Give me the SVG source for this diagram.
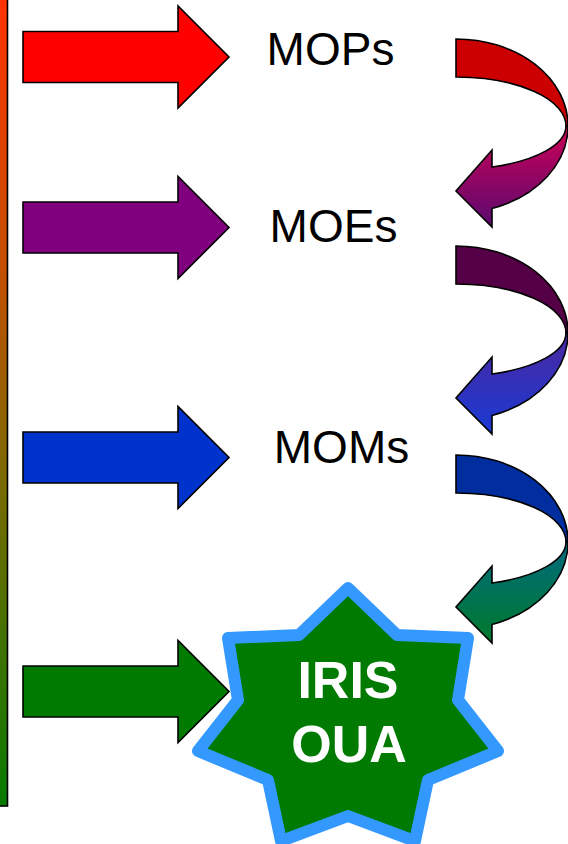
<svg xmlns="http://www.w3.org/2000/svg" xmlns:xlink="http://www.w3.org/1999/xlink" width="568" height="844" viewBox="0 0 568 844">
<style>
.ol{stroke:#000;stroke-width:1.6;stroke-linejoin:miter}
.lbl{font-family:"Liberation Sans",Arial,sans-serif;font-size:46px;fill:#000;text-anchor:middle}
.st{font-family:"Liberation Sans",Arial,sans-serif;font-size:52px;font-weight:bold;fill:#fff;text-anchor:middle}
</style>
<defs>
<linearGradient id="barG" x1="0" y1="0" x2="0" y2="1">
<stop offset="0" stop-color="#ff3300"/>
<stop offset="0.35" stop-color="#c05000"/>
<stop offset="0.6" stop-color="#7a6a00"/>
<stop offset="1" stop-color="#077a00"/>
</linearGradient>
<linearGradient id="c1" x1="0" y1="0" x2="0" y2="1">
<stop offset="0" stop-color="#cc0055"/>
<stop offset="1" stop-color="#5a0a70"/>
</linearGradient>
<linearGradient id="c2" x1="0" y1="0" x2="0" y2="1">
<stop offset="0" stop-color="#4a28a0"/>
<stop offset="1" stop-color="#1a3ad4"/>
</linearGradient>
<linearGradient id="c3" x1="0" y1="0" x2="0" y2="1">
<stop offset="0" stop-color="#006a80"/>
<stop offset="1" stop-color="#007a2a"/>
</linearGradient>
<path id="arr" class="ol" d="M23,-25.5 H178 V-51 L229,0 L178,51 V25.5 H23 Z"/>
<path id="cTop" class="ol" d="M456,0 A112,87 0 0 1 568,87 L566,87 A110,49 0 0 0 456,38 Z"/>
<path id="cLow" class="ol" d="M568,87 A112,87 0 0 1 492,169.4 L492,188 L456,152 L492,111 L492,128 A110,43.5 0 0 0 566,87 Z"/>
</defs>

<g id="bar">
<rect x="-2" y="-2" width="9.5" height="808" fill="url(#barG)" stroke="#000" stroke-width="1.6"/>
</g>

<g id="arrow-red"><use xlink:href="#arr" href="#arr" y="57" fill="#ff0000"/></g>
<g id="arrow-purple"><use xlink:href="#arr" href="#arr" y="227.5" fill="#800080"/></g>
<g id="arrow-blue"><use xlink:href="#arr" href="#arr" y="457.5" fill="#0033cc"/></g>
<g id="arrow-green"><use xlink:href="#arr" href="#arr" y="691.5" fill="#007a00"/></g>

<g id="label-mops"><text class="lbl" x="330.5" y="65">MOPs</text></g>
<g id="label-moes"><text class="lbl" x="333.5" y="242">MOEs</text></g>
<g id="label-moms"><text class="lbl" x="341.5" y="463">MOMs</text></g>

<g id="connectors">
<g transform="translate(0,39)">
<use xlink:href="#cTop" href="#cTop" fill="#cc0000"/>
<path class="ol" fill="url(#c1)" d="M568,87 A112,87 0 0 1 492,169.4 L492,188 L456,152 L492,111 L492,128 A110,43.5 0 0 0 566,87 Z"/>
</g>
<g transform="translate(0,246)">
<use xlink:href="#cTop" href="#cTop" fill="#550046"/>
<path class="ol" fill="url(#c2)" d="M568,87 A112,87 0 0 1 492,169.4 L492,188 L456,152 L492,111 L492,128 A110,43.5 0 0 0 566,87 Z"/>
</g>
<g transform="translate(0,455)">
<use xlink:href="#cTop" href="#cTop" fill="#002e9e"/>
<path class="ol" fill="url(#c3)" d="M568,87 A112,87 0 0 1 492,169.4 L492,188 L456,152 L492,111 L492,128 A110,43.5 0 0 0 566,87 Z"/>
</g>
</g>

<g id="star">
<polygon fill="#007a00" stroke="#3399ff" stroke-width="12" stroke-linejoin="round"
points="348,588 397,635 468,638 458,700 498,751 428,780 415,841 348,816 281,841 268,780 198,751 238,700 228,638 299,635"/>
<text class="st" x="348" y="698">IRIS</text>
<text class="st" x="349" y="762">OUA</text>
</g>
</svg>
